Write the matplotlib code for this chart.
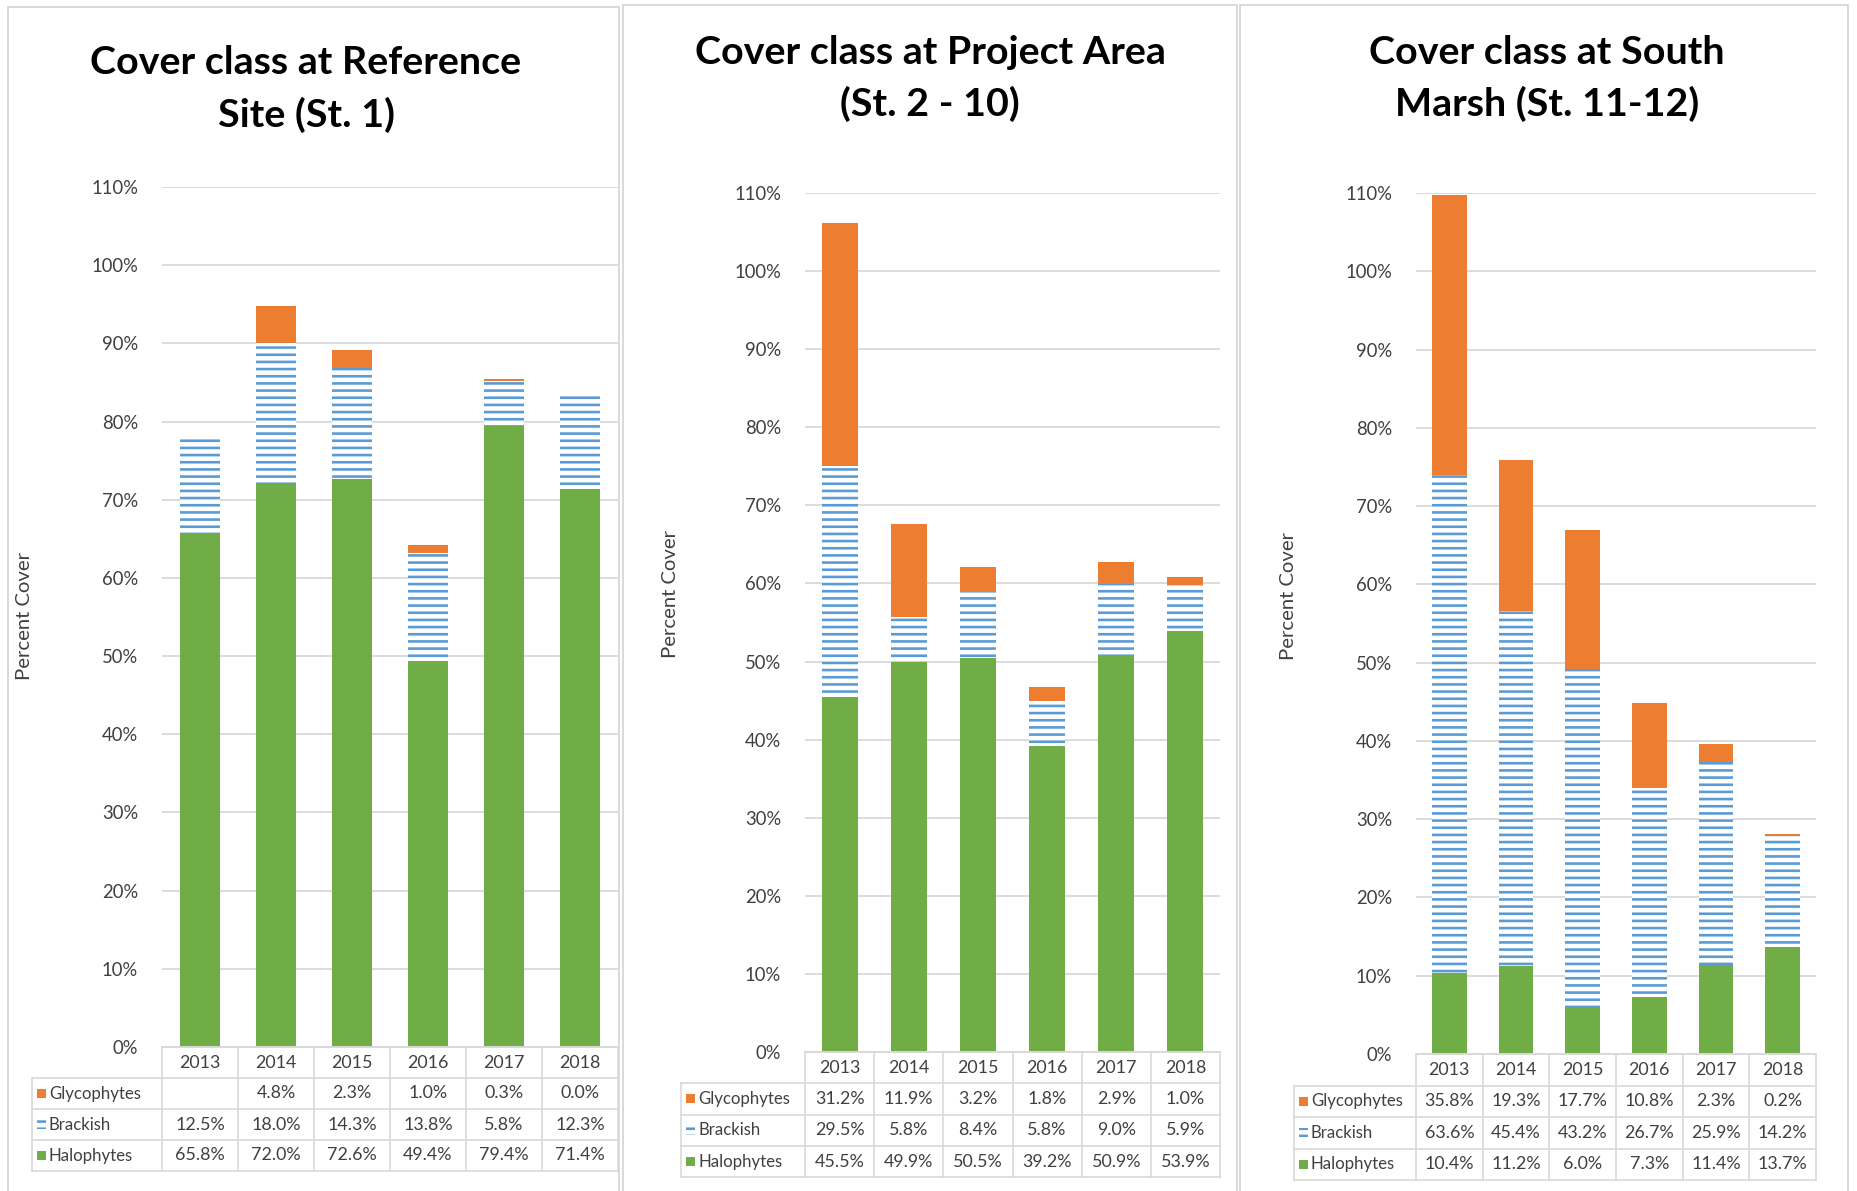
import matplotlib
matplotlib.use("Agg")
import matplotlib.pyplot as plt
from matplotlib.patches import Rectangle
from matplotlib.transforms import blended_transform_factory

# ---------------- data ----------------
years = ["2013", "2014", "2015", "2016", "2017", "2018"]
series_names = ["Glycophytes", "Brackish", "Halophytes"]

ref_gly = [None, 4.8, 2.3, 1.0, 0.3, 0.0]
ref_bra = [12.5, 18.0, 14.3, 13.8, 5.8, 12.3]
ref_hal = [65.8, 72.0, 72.6, 49.4, 79.4, 71.4]

proj_gly = [31.2, 11.9, 3.2, 1.8, 2.9, 1.0]
proj_bra = [29.5, 5.8, 8.4, 5.8, 9.0, 5.9]
proj_hal = [45.5, 49.9, 50.5, 39.2, 50.9, 53.9]

south_gly = [35.8, 19.3, 17.7, 10.8, 2.3, 0.2]
south_bra = [63.6, 45.4, 43.2, 26.7, 25.9, 14.2]
south_hal = [10.4, 11.2, 6.0, 7.3, 11.4, 13.7]

titles = ["Cover class at Reference\nSite (St. 1)",
          "Cover class at Project Area\n(St. 2 - 10)",
          "Cover class at South\nMarsh (St. 11-12)"]
y_ticks = list(range(0, 111, 10))
y_label = "Percent Cover"

# ---------------- style ----------------
DPI = 86
W, H = 1857, 1191
C_GLY = "#ED7D31"
C_BRA = "#5B9BD5"
C_HAL = "#70AD47"
C_GRID = "#D9D9D9"
C_TXT = "#404040"
FONT = "Lato"
plt.rcParams["font.family"] = [FONT, "DejaVu Sans"]
plt.rcParams["hatch.linewidth"] = 2.2

FS_TITLE = 33
FS_TICK = 15.5
FS_NUM = 15
FS_LAB = 14
FS_YLAB = 17

fig = plt.figure(figsize=(W / DPI, H / DPI), dpi=DPI)
fig.patch.set_facecolor("white")


def fx(px):
    return px / W


def fy(py):
    return 1 - py / H


# panel frames
frames = [(8, 7, 619, 1195), (623, 5, 1237, 1195), (1240, 5, 1848, 1195)]
for x0, y0, x1, y1 in frames:
    fig.patches.append(Rectangle((fx(x0), fy(y1)), fx(x1 - x0), (y1 - y0) / H,
                                 transform=fig.transFigure, fill=False,
                                 edgecolor=C_GRID, linewidth=1.6))

panels = [
    dict(data=(ref_gly, ref_bra, ref_hal), box=(162, 187, 618, 1047), lab_left=32,
         tcx=306, tcy=(63, 115), ylab=(25, 616), row_h=31.0),
    dict(data=(proj_gly, proj_bra, proj_hal), box=(805, 193, 1220, 1052), lab_left=681,
         tcx=930, tcy=(53, 104), ylab=(671, 594), row_h=31.3),
    dict(data=(south_gly, south_bra, south_hal), box=(1416, 193, 1816, 1054), lab_left=1294,
         tcx=1547, tcy=(53, 104), ylab=(1289, 596), row_h=31.5),
]

x = list(range(len(years)))
BAR_W = 0.52

for p, title in zip(panels, titles):
    gly, bra, hal = p["data"]
    x0, y0, x1, y1 = p["box"]
    ax = fig.add_axes([fx(x0), fy(y1), fx(x1 - x0), (y1 - y0) / H])
    ax.set_xlim(-0.5, len(years) - 0.5)
    ax.set_ylim(0, 110)
    gly_v = [0 if v is None else v for v in gly]
    bot2 = [h + b for h, b in zip(hal, bra)]
    ax.bar(x, hal, width=BAR_W, color=C_HAL, linewidth=0, zorder=3)
    ax.bar(x, bra, bottom=hal, width=BAR_W, facecolor="white", edgecolor=C_BRA,
           hatch="--", linewidth=0, zorder=3)
    ax.bar(x, gly_v, bottom=bot2, width=BAR_W, color=C_GLY, linewidth=0, zorder=3)

    ax.set_yticks(y_ticks)
    ax.set_yticklabels([f"{t}%" for t in y_ticks], fontsize=FS_TICK, color=C_TXT)
    ax.tick_params(axis="y", length=0, pad=20)
    ax.set_xticks([])
    for s in ax.spines.values():
        s.set_visible(False)
    ax.grid(axis="y", color=C_GRID, linewidth=1.5, zorder=0)
    ax.set_axisbelow(True)

    # title & ylabel
    l1, l2 = title.split("\n")
    fig.text(fx(p["tcx"]), fy(p["tcy"][0]), l1, ha="center", va="center",
             fontsize=FS_TITLE, fontweight="bold", color="black")
    fig.text(fx(p["tcx"]), fy(p["tcy"][1]), l2, ha="center", va="center",
             fontsize=FS_TITLE, fontweight="bold", color="black")
    fig.text(fx(p["ylab"][0]), fy(p["ylab"][1]), y_label, rotation=90, ha="center",
             va="center", fontsize=FS_YLAB, color=C_TXT)

    # ---------- data table ----------
    tr = blended_transform_factory(ax.transData, ax.transAxes)
    ax_h = y1 - y0
    col_px = (x1 - x0) / len(years)
    rh = p["row_h"] / ax_h
    lab_x = -0.5 - (x0 - p["lab_left"]) / col_px
    right = len(years) - 0.5
    n_rows = 4
    bottom = -n_rows * rh
    lkw = dict(color=C_GRID, linewidth=1.4, transform=tr, clip_on=False, zorder=1)
    for k in range(len(years) + 1):
        ax.plot([k - 0.5, k - 0.5], [0, bottom], **lkw)
    ax.plot([lab_x, lab_x], [-rh, bottom], **lkw)
    for r in range(1, n_rows + 1):
        ax.plot([lab_x, right], [-r * rh, -r * rh], **lkw)
    ax.plot([-0.5, right], [0, 0], color=C_GRID, linewidth=1.6, transform=tr,
            clip_on=False, zorder=4)

    for i, yr in enumerate(years):
        ax.text(i, -0.5 * rh, yr, ha="center", va="center", fontsize=FS_NUM, color=C_TXT,
                transform=tr)
    rows = [(series_names[0], gly, C_GLY, None),
            (series_names[1], bra, "white", "--"),
            (series_names[2], hal, C_HAL, None)]
    mk_w = 9 / col_px
    mk_h = 9 / ax_h
    for r, (name, vals, col, hatch) in enumerate(rows, start=1):
        yc = -(r + 0.5) * rh
        mx = lab_x + 5 / col_px
        if hatch:
            ax.add_patch(Rectangle((mx, yc - mk_h / 2), mk_w, mk_h, transform=tr,
                                   facecolor="white", edgecolor=C_BRA, hatch="--",
                                   linewidth=0, clip_on=False))
        else:
            ax.add_patch(Rectangle((mx, yc - mk_h / 2), mk_w, mk_h, transform=tr,
                                   facecolor=col, linewidth=0, clip_on=False))
        ax.text(lab_x + 17 / col_px, yc, name, ha="left", va="center", fontsize=FS_LAB,
                color=C_TXT, transform=tr)
        for i, v in enumerate(vals):
            if v is None:
                continue
            ax.text(i, yc, f"{v:.1f}%", ha="center", va="center", fontsize=FS_NUM,
                    color=C_TXT, transform=tr)

fig.savefig("out.png", dpi=DPI, facecolor="white")
